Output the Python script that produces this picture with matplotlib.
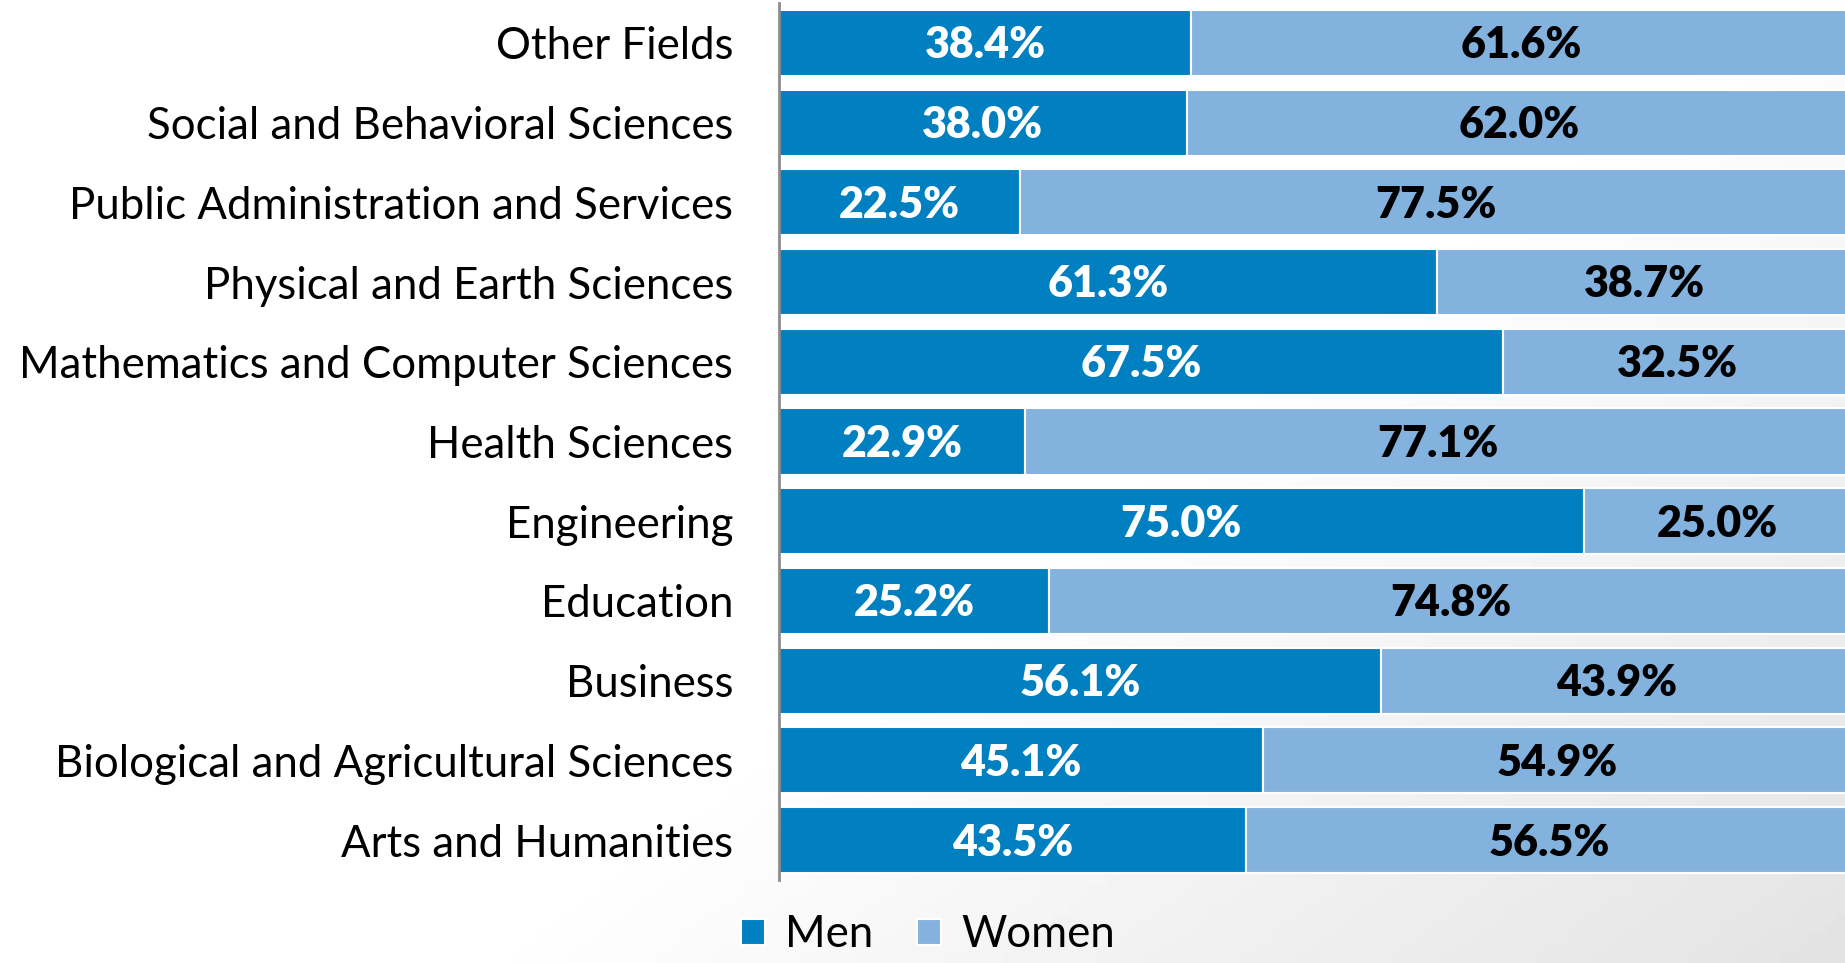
"""Share of men and women by field - horizontal 100% stacked bars."""

import matplotlib

matplotlib.use("Agg")
import matplotlib.pyplot as plt  # noqa: E402
import numpy as np  # noqa: E402

# data (top to bottom, as in the chart)
fields = [
    "Other Fields",
    "Social and Behavioral Sciences",
    "Public Administration and Services",
    "Physical and Earth Sciences",
    "Mathematics and Computer Sciences",
    "Health Sciences",
    "Engineering",
    "Education",
    "Business",
    "Biological and Agricultural Sciences",
    "Arts and Humanities",
]
men = [38.4, 38.0, 22.5, 61.3, 67.5, 22.9, 75.0, 25.2, 56.1, 45.1, 43.5]
women = [61.6, 62.0, 77.5, 38.7, 32.5, 77.1, 25.0, 74.8, 43.9, 54.9, 56.5]

_MEN = "#0080C0"
_WOMEN = "#84B2DF"
_FONT = "Lato"

plt.rcParams["font.family"] = [_FONT, "DejaVu Sans"]

W, H = 1845, 963
fig = plt.figure(figsize=(W / 100, H / 100), dpi=100)
fig.patch.set_facecolor("white")

# soft grey shading towards the bottom-right corner
bg = fig.add_axes([0, 0, 1, 1], zorder=-10)
gx, gy = np.meshgrid(np.linspace(0, 1, 200), np.linspace(0, 1, 100))
shade = np.clip((gx * 1.0 + gy * 0.7 - 0.95) / 0.75, 0, 1) * 0.11
bg.imshow(1 - shade, cmap="gray", vmin=0, vmax=1, aspect="auto",
          origin="upper", extent=[0, 1, 0, 1])
bg.axis("off")

left = 779 / W
right = 1852 / W
bottom = 83 / H
top = 3 / H
ax = fig.add_axes([left, bottom, right - left, 1 - top - bottom])
ax.patch.set_alpha(0)

y = np.arange(len(fields))[::-1]
ax.barh(y, men, height=0.83, color=_MEN, edgecolor="white", linewidth=1.5, label="Men")
ax.barh(y, women, left=men, height=0.83, color=_WOMEN, edgecolor="white", linewidth=1.5,
        label="Women")

for yi, m, w in zip(y, men, women):
    ax.text(m / 2, yi - 0.03, f"{m:.1f}%", ha="center", va="center", color="white",
            fontsize=31, fontweight="heavy")
    ax.text(m + w / 2, yi - 0.03, f"{w:.1f}%", ha="center", va="center", color="black",
            fontsize=31, fontweight="heavy")

ax.set_xlim(0, 100)
ax.set_ylim(-0.5, len(fields) - 0.5)
ax.set_yticks(y)
ax.set_yticklabels(fields, fontsize=31.5)
ax.tick_params(axis="y", length=0, pad=33)
ax.set_xticks([])
for side in ("top", "right", "bottom"):
    ax.spines[side].set_visible(False)
ax.spines["left"].set_color("#8c8c8c")
ax.spines["left"].set_linewidth(2)

fig.legend(loc="lower center", bbox_to_anchor=(0.503, -0.033), ncol=2, frameon=False,
           fontsize=31.5, handlelength=0.55, handleheight=0.55, handletextpad=0.45,
           columnspacing=1.0)

fig.savefig("out.png", dpi=100)
